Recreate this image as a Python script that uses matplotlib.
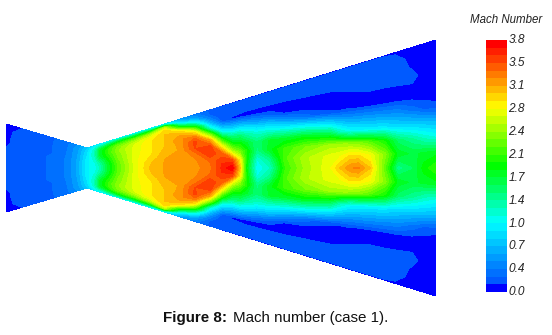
import numpy as np
import matplotlib
matplotlib.use("Agg")
import matplotlib.pyplot as plt
from matplotlib.colors import LinearSegmentedColormap, BoundaryNorm
from matplotlib.transforms import ScaledTranslation

plt.rcParams['font.family'] = ['Liberation Sans', 'DejaVu Sans']

# Wall geometry (pixel units of the drawing)
wall_x = [6, 87, 436]
wall_half = [44, 20, 128]
axis_y = 168

# Stations along the nozzle and normalised distance from the axis
stations = [6, 20, 35, 52, 68, 78, 87, 95, 100, 108, 118, 135, 150, 165, 180, 195, 210, 222,
            232, 240, 246, 257, 270, 285, 305, 330, 340, 350, 358, 370, 385, 398, 412, 424, 436]
eta = [0, .12, .24, .36, .48, .58, .68, .76, .84, .92, .98, 1]

# Mach number at each station, axis to wall
mach = [
    [.20, .20, .20, .18, .11, .08, .07, .06, .06, .06, .06, .06],
    [.20, .20, .20, .20, .20, .20, .20, .19, .18, .13, .11, .10],
    [.21, .21, .21, .21, .21, .21, .21, .21, .21, .20, .20, .20],
    [.24, .24, .24, .24, .23, .23, .23, .22, .22, .21, .21, .20],
    [.38, .38, .38, .37, .36, .36, .35, .35, .34, .33, .32, .31],
    [.62, .62, .61, .60, .59, .58, .56, .55, .53, .50, .48, .46],
    [1.0, 1.0, .99, .97, .95, .92, .90, .88, .85, .80, .75, .70],
    [1.1, 1.12, 1.15, 1.2, 1.25, 1.3, 1.3, 1.3, 1.2, 1.1, .95, .90],
    [1.25, 1.3, 1.4, 1.55, 1.7, 1.75, 1.75, 1.7, 1.5, 1.2, 1.0, .95],
    [1.75, 1.75, 1.8, 1.9, 2.0, 2.05, 2.05, 1.95, 1.75, 1.4, 1.1, 1.0],
    [2.2, 2.2, 2.25, 2.3, 2.35, 2.4, 2.35, 2.25, 2.0, 1.6, 1.15, 1.0],
    [2.7, 2.7, 2.72, 2.72, 2.7, 2.7, 2.65, 2.5, 2.2, 1.7, 1.15, 1.0],
    [3.0, 2.98, 2.9, 2.85, 2.85, 2.85, 2.85, 2.75, 2.5, 1.9, 1.15, 1.0],
    [3.12, 3.12, 3.1, 3.05, 3.0, 3.0, 3.0, 3.0, 2.95, 2.5, 1.2, .90],
    [3.15, 3.15, 3.15, 3.12, 3.15, 3.2, 3.1, 2.85, 1.9, .95, .60, .55],
    [3.18, 3.2, 3.25, 3.45, 3.5, 3.3, 2.75, 2.0, 1.15, .60, .40, .30],
    [3.3, 3.35, 3.55, 3.55, 3.1, 2.3, 1.2, .75, .40, .20, .20, .15],
    [3.6, 3.55, 3.35, 2.7, 1.9, 1.1, .60, .20, .10, .20, .20, .10],
    [3.79, 3.5, 2.65, 2.0, 1.5, .95, .50, .10, .14, .20, .20, .08],
    [3.0, 2.8, 2.3, 1.9, 1.5, 1.0, .50, .09, .13, .20, .20, .08],
    [1.9, 2.0, 2.0, 1.75, 1.35, .95, .45, .07, .13, .20, .20, .08],
    [1.05, 1.15, 1.45, 1.5, 1.2, .80, .35, .06, .13, .20, .20, .08],
    [1.25, 1.45, 1.8, 1.75, 1.2, .75, .25, .06, .13, .20, .20, .08],
    [2.05, 2.15, 2.1, 1.75, 1.1, .55, .10, .06, .13, .20, .20, .08],
    [2.45, 2.5, 2.3, 1.8, 1.0, .30, .07, .07, .14, .20, .20, .08],
    [2.75, 2.7, 2.45, 1.6, .80, .13, .06, .07, .16, .20, .20, .08],
    [3.0, 2.75, 2.45, 1.3, .65, .12, .06, .09, .18, .20, .20, .08],
    [3.2, 2.9, 2.4, 1.1, .55, .12, .06, .12, .20, .20, .20, .08],
    [3.25, 2.9, 2.35, 1.05, .52, .11, .07, .13, .20, .20, .20, .08],
    [3.0, 2.75, 2.2, 1.0, .50, .09, .08, .16, .20, .20, .20, .08],
    [2.2, 2.35, 1.95, .95, .45, .09, .08, .16, .20, .20, .20, .08],
    [1.4, 1.8, 1.55, .85, .42, .09, .09, .16, .17, .17, .09, .06],
    [1.6, 1.7, 1.4, .80, .30, .08, .10, .16, .10, .06, .06, .05],
    [1.9, 1.75, 1.25, .75, .20, .07, .06, .07, .06, .05, .05, .05],
    [2.05, 1.8, 1.15, .70, .15, .06, .05, .05, .05, .05, .05, .05],
]

bar_labels = ["0.0", "0.4", "0.7", "1.0", "1.4", "1.7", "2.1", "2.4", "2.8", "3.1", "3.5", "3.8"]
mach_max = 3.8
n_bands = 33

cmap = LinearSegmentedColormap.from_list(
    "tecplot",
    [(0, "#0000ff"), (1 / 32, "#005aff"), (.27, "#00ffff"), (.5, "#00ff00"), (.74, "#ffff00"), (1, "#ff0000")],
    N=n_bands)
levels = np.linspace(0, mach_max, n_bands + 1)
norm = BoundaryNorm(levels, cmap.N)

fig = plt.figure(figsize=(5.52, 3.35), dpi=100)
ax = fig.add_axes([0, 0, 1, 1])
ax.set_xlim(0, 552)
ax.set_ylim(335, 0)
ax.axis("off")

half_field = np.array(mach).T
eta_full = np.r_[-np.array(eta[::-1]), eta[1:]]
field = np.vstack([half_field[::-1], half_field[1:]])
st = np.array(stations, float)
h = np.interp(st, wall_x, wall_half)
X, E = np.meshgrid(st, eta_full)
Y = axis_y + E * h
ax.contourf(X, Y, field, levels=levels, cmap=cmap, norm=norm, antialiased=False)

ax.text(163, 318, "Figure 8:", fontsize=10.9, fontweight="bold", va="center", ha="left", color="#111111")
ax.text(233, 318, "Mach number (case 1).", fontsize=10.9, va="center", ha="left", color="#111111")
ax.text(506, 20, "Mach Number", fontsize=8.3, style="italic", va="center", ha="center", color="#222222")

# Colour bar
cax = fig.add_axes([485.5 / 552, 1 - 292 / 335, 21.5 / 552, 252 / 335])
band_mid = ((levels[:-1] + levels[1:]) / 2).reshape(-1, 1)
cax.pcolormesh([0, 1], levels, band_mid, cmap=cmap, norm=norm)
cax.set_xticks([])
cax.yaxis.tick_right()
cax.set_ylim(0, mach_max)
cax.set_yticks(np.linspace(0, mach_max, len(bar_labels)))
cax.set_yticklabels(bar_labels, fontsize=8.6, style="italic", color="#222222")
cax.tick_params(axis="y", length=0, pad=1)
shift = ScaledTranslation(0, 1.2 / 100, fig.dpi_scale_trans)
for lab in cax.get_yticklabels():
    lab.set_transform(lab.get_transform() + shift)
for s in cax.spines.values():
    s.set_visible(False)

fig.savefig("out.png", dpi=100)
